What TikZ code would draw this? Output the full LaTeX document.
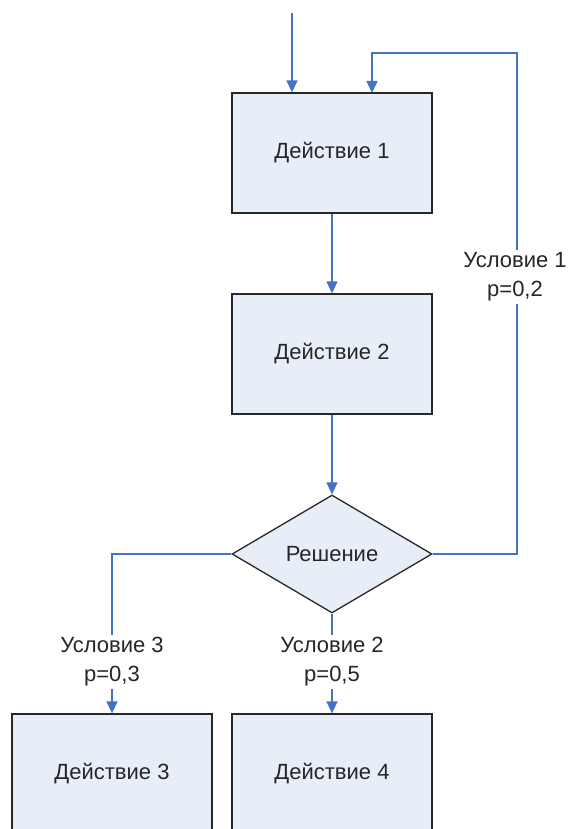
\documentclass[tikz,border=0pt]{standalone}
\usepackage{fontspec}
\setmainfont{Liberation Sans}
\usetikzlibrary{arrows.meta,shapes.geometric}
\definecolor{flowblue}{RGB}{68,114,196}
\definecolor{boxfill}{RGB}{232,238,247}
\definecolor{boxline}{RGB}{40,40,40}
\begin{document}
\begin{tikzpicture}[x=1pt,y=-1pt,
  action/.style={rectangle,draw=boxline,fill=boxfill,line width=1.3pt,
    minimum width=200pt,minimum height=120pt,inner sep=0pt,
    font=\fontsize{22}{26}\selectfont,text=black!85},
  decision/.style={diamond,draw=boxline,fill=boxfill,line width=1.3pt,
    minimum width=200pt,minimum height=118pt,inner sep=0pt,
    font=\fontsize{22}{26}\selectfont,text=black!85},
  flow/.style={draw=flowblue,line width=1.5pt,
    -{Triangle[width=11pt,length=12pt]}},
  cond/.style={fill=white,align=center,inner sep=3pt,
    font=\fontsize{22}{29}\selectfont,text=black!85}]
  \useasboundingbox (0,0) rectangle (571,829);
  \clip (0,0) rectangle (571,829);

  % blocks
  \node[action] (a1) at (332,153) {Действие 1};
  \node[action] (a2) at (332,354) {Действие 2};
  \node[decision] (dec) at (332,554) {Решение};
  \node[action] (a3) at (112,774) {Действие 3};
  \node[action] (a4) at (332,774) {Действие 4};

  % connectors
  \coordinate (start) at (292,13);
  \coordinate (loopR) at (517,53);
  \coordinate (loopIn) at (372,93);
  \draw[flow] (start) -- (start |- a1.north);
  \draw[flow] (a1) -- (a2);
  \draw[flow] (a2) -- (dec);
  \draw[flow] (dec.east) -| (loopR) -| (loopIn);
  \draw[flow] (dec.west) -| (a3.north);
  \draw[flow] (dec.south) -- (a4.north);

  % branch conditions
  \node[cond] (c1) at (515,277) {Условие 1\\p=0,2};
  \node[cond] (c3) at (112,662) {Условие 3\\p=0,3};
  \node[cond] (c2) at (332,662) {Условие 2\\p=0,5};
\end{tikzpicture}
\end{document}
